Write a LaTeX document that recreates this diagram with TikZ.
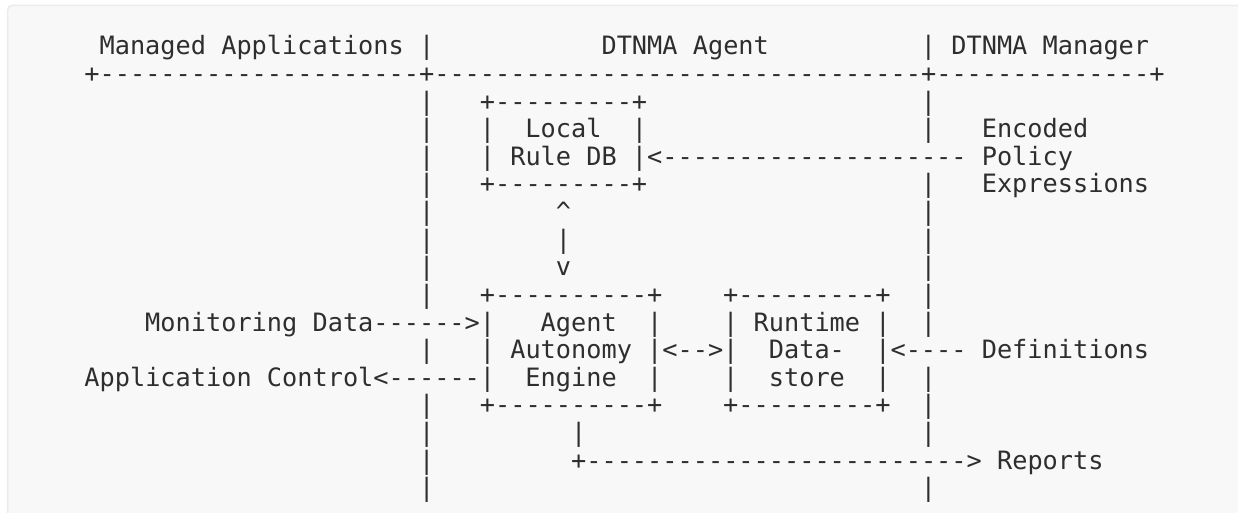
\documentclass[tikz,border=0pt]{standalone}
\usepackage{fontspec}
\setmonofont{DejaVu Sans Mono}
\definecolor{ink}{HTML}{2E2E2E}
\definecolor{framebg}{HTML}{F8F8F8}
\definecolor{frameline}{HTML}{ECECEC}
\newcommand\putcell[3]{\node[cell] (r#1c#2) at ({53.98+15.21*#2},{-55-27.6*(#1-1)}) {#3};}
\begin{document}
\begin{tikzpicture}[x=1pt,y=1pt,
  cell/.style={anchor=base west, inner sep=0pt, outer sep=0pt, text=ink,
    font=\ttfamily\fontsize{25.27}{27.6}\selectfont}]
\useasboundingbox (0,0) rectangle (1238,-513);
\clip (0,0) rectangle (1238,-513);
\fill[white] (0,0) rectangle (1238,-513);
\fill[framebg] (7.5,-5.5) rectangle (1238,-513);
\draw[frameline, line width=1.5pt, rounded corners=5pt] (1245,-5.5) -- (7.5,-5.5) -- (7.5,-520);
% row 1
\putcell{1}{3}{Managed Applications}
\putcell{1}{24}{|}
\putcell{1}{36}{DTNMA Agent}
\putcell{1}{57}{| DTNMA Manager}
% row 2
\putcell{2}{2}{+---------------------+--------------------------------+--------------+}
% row 3
\putcell{3}{24}{|}
\putcell{3}{28}{+---------+}
\putcell{3}{57}{|}
% row 4
\putcell{4}{24}{|}
\putcell{4}{28}{|}
\putcell{4}{31}{Local}
\putcell{4}{38}{|}
\putcell{4}{57}{|}
\putcell{4}{61}{Encoded}
% row 5
\putcell{5}{24}{|}
\putcell{5}{28}{| Rule DB |<--------------------}
\putcell{5}{61}{Policy}
% row 6
\putcell{6}{24}{|}
\putcell{6}{28}{+---------+}
\putcell{6}{57}{|}
\putcell{6}{61}{Expressions}
% rows 7-9
\putcell{7}{24}{|}
\putcell{7}{33}{\char"5E}
\putcell{7}{57}{|}
\putcell{8}{24}{|}
\putcell{8}{33}{|}
\putcell{8}{57}{|}
\putcell{9}{24}{|}
\putcell{9}{33}{v}
\putcell{9}{57}{|}
% row 10
\putcell{10}{24}{|}
\putcell{10}{28}{+----------+}
\putcell{10}{44}{+---------+}
\putcell{10}{57}{|}
% row 11
\putcell{11}{6}{Monitoring Data------>|}
\putcell{11}{32}{Agent}
\putcell{11}{39}{|}
\putcell{11}{44}{|}
\putcell{11}{46}{Runtime}
\putcell{11}{54}{|}
\putcell{11}{57}{|}
% row 12
\putcell{12}{24}{|}
\putcell{12}{28}{|}
\putcell{12}{30}{Autonomy}
\putcell{12}{39}{|<-->|}
\putcell{12}{47}{Data-}
\putcell{12}{54}{|<----}
\putcell{12}{61}{Definitions}
% row 13
\putcell{13}{2}{Application Control<------|}
\putcell{13}{31}{Engine}
\putcell{13}{39}{|}
\putcell{13}{44}{|}
\putcell{13}{47}{store}
\putcell{13}{54}{|}
\putcell{13}{57}{|}
% row 14
\putcell{14}{24}{|}
\putcell{14}{28}{+----------+}
\putcell{14}{44}{+---------+}
\putcell{14}{57}{|}
% row 15
\putcell{15}{24}{|}
\putcell{15}{34}{|}
\putcell{15}{57}{|}
% row 16
\putcell{16}{24}{|}
\putcell{16}{34}{+-------------------------> Reports}
% row 17
\putcell{17}{24}{|}
\putcell{17}{57}{|}
\end{tikzpicture}
\end{document}
